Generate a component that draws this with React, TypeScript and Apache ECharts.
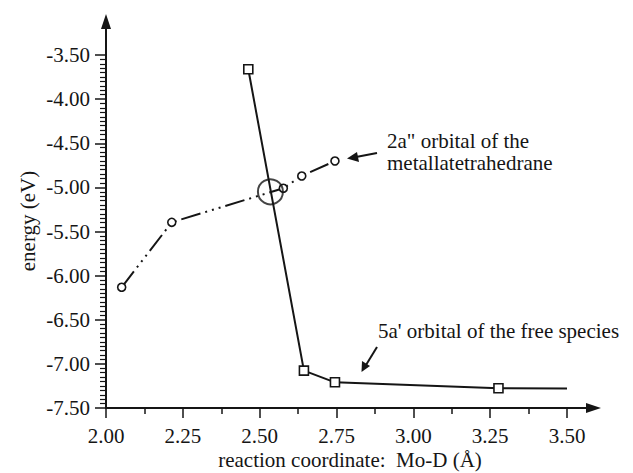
import React, { useEffect, useRef } from "react";
import * as echarts from "echarts";

// 5a' orbital of the free species (squares, solid line)
const freeSpeciesX = [2.463, 2.644, 2.745, 3.277, 3.5];
const freeSpeciesY = [-3.662, -7.077, -7.209, -7.277, -7.28];
// 2a" orbital of the metallatetrahedrane (circles, dash-dot line)
const metallaX = [2.051, 2.214, 2.577, 2.637, 2.745];
const metallaY = [-6.132, -5.396, -5.01, -4.871, -4.701];
// crossing point (big circle)
const crossing = [2.535, -5.05];

const xTicks = [2.0, 2.25, 2.5, 2.75, 3.0, 3.25, 3.5];
const yTicks = [-7.5, -7.0, -6.5, -6.0, -5.5, -5.0, -4.5, -4.0, -3.5];

const FONT = "Liberation Serif";
const INK = "#151515";

function txt(text: string, x: number, y: number, align: string, extra: any = {}) {
  return {
    type: "text",
    x,
    y,
    ...extra,
    style: { text, fontSize: 21, fontFamily: FONT, fill: INK, align, verticalAlign: "middle" },
  };
}

export default function App() {
  const ref = useRef<HTMLDivElement>(null);
  useEffect(() => {
    if (!ref.current) return;
    const chart = echarts.init(ref.current, null, { renderer: "svg" });
    const freeData: any[] = freeSpeciesX.map((x, i) => {
      const last = i === freeSpeciesX.length - 1;
      return last ? { value: [x, freeSpeciesY[i]], symbol: "none" } : [x, freeSpeciesY[i]];
    });
    const metallaData = metallaX.map((x, i) => [x, metallaY[i]]);
    const axisLabel = {
      fontSize: 21,
      fontFamily: FONT,
      color: INK,
      formatter: (v: number) => v.toFixed(2),
    };
    chart.setOption({
      animation: false,
      backgroundColor: "#fff",
      textStyle: { fontFamily: FONT },
      grid: { left: 106, top: 55, width: 461, height: 353 },
      xAxis: {
        type: "value",
        min: xTicks[0],
        max: xTicks[xTicks.length - 1],
        interval: 0.25,
        axisLine: { onZero: false, lineStyle: { color: INK, width: 2 } },
        axisTick: { length: 10, lineStyle: { color: INK, width: 1.5 } },
        minorTick: { show: true, splitNumber: 2, length: 6, lineStyle: { color: INK, width: 1.5 } },
        splitLine: { show: false },
        axisLabel: { ...axisLabel, margin: 17 },
      },
      yAxis: {
        type: "value",
        min: yTicks[0],
        max: yTicks[yTicks.length - 1],
        interval: 0.5,
        axisLine: { onZero: false, lineStyle: { color: INK, width: 2 } },
        axisTick: { length: 11, lineStyle: { color: INK, width: 1.5 } },
        minorTick: { show: true, splitNumber: 10, length: 6, lineStyle: { color: INK, width: 1.2 } },
        splitLine: { show: false },
        axisLabel: { ...axisLabel, margin: 16 },
      },
      series: [
        {
          type: "line",
          data: freeData,
          symbol: "rect",
          symbolSize: 9,
          itemStyle: { color: "#fff", borderColor: INK, borderWidth: 1.6 },
          lineStyle: { color: INK, width: 2 },
          z: 3,
        },
        {
          type: "line",
          data: metallaData,
          symbol: "circle",
          symbolSize: 8,
          itemStyle: { color: "#fff", borderColor: INK, borderWidth: 1.6 },
          lineStyle: { color: INK, width: 2, type: [20, 5, 2, 5, 2, 5, 2, 5] },
          z: 3,
        },
        {
          type: "scatter",
          data: [crossing],
          symbol: "circle",
          symbolSize: 25,
          itemStyle: { color: "rgba(0,0,0,0)", borderColor: INK, borderWidth: 2 },
          z: 4,
        },
      ],
      graphic: [
        // y axis arrow
        { type: "line", shape: { x1: 106, y1: 56, x2: 106, y2: 26 }, style: { stroke: INK, lineWidth: 2 } },
        { type: "polygon", shape: { points: [[106, 14], [101, 29], [111, 29]] }, style: { fill: INK } },
        // x axis arrow
        { type: "line", shape: { x1: 566, y1: 408, x2: 590, y2: 408 }, style: { stroke: INK, lineWidth: 2 } },
        { type: "polygon", shape: { points: [[601, 408], [586, 403], [586, 413]] }, style: { fill: INK } },
        // axis names
        txt("energy (eV)", 28, 221, "center", { rotation: Math.PI / 2 }),
        txt("reaction coordinate:  Mo-D (Å)", 350, 460, "center"),
        // annotations
        txt("2a\" orbital of the", 387, 141, "left"),
        txt("metallatetrahedrane", 387, 163, "left"),
        txt("5a' orbital of the free species", 378, 331, "left"),
        // annotation arrows
        { type: "line", shape: { x1: 377, y1: 153, x2: 356, y2: 157 }, style: { stroke: INK, lineWidth: 2 } },
        { type: "polygon", shape: { points: [[347, 158.5], [357, 152], [359, 162]] }, style: { fill: INK } },
        { type: "line", shape: { x1: 377, y1: 347, x2: 366, y2: 365 }, style: { stroke: INK, lineWidth: 2 } },
        { type: "polygon", shape: { points: [[361.5, 372], [362, 361], [370, 366]] }, style: { fill: INK } },
      ],
    });
    return () => chart.dispose();
  }, []);
  return <div ref={ref} style={{ position: "absolute", left: 0, top: 0, width: 633, height: 473 }} />;
}
